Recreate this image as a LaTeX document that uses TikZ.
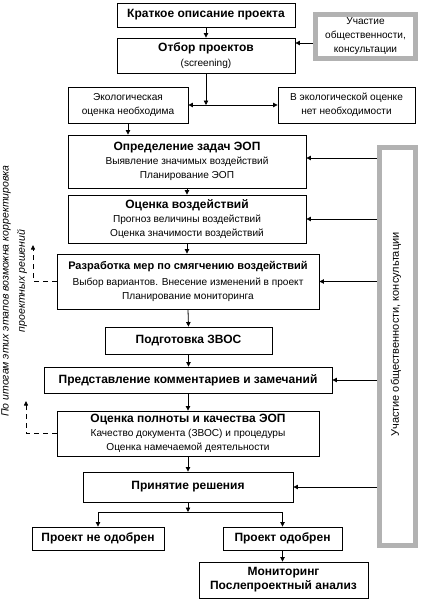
\documentclass[tikz,border=0pt]{standalone}
\usepackage{fontspec}
\setmainfont{Liberation Sans}
\usetikzlibrary{arrows.meta}
\newcommand\myN{\mdseries\fontsize{10.1}{14}\selectfont}
\newcommand\myB{\bfseries\fontsize{12}{14}\selectfont}
\newcommand\myBs{\bfseries\fontsize{11}{14}\selectfont}
\newcommand\myI{\mdseries\itshape\fontsize{10.5}{14}\selectfont}
\newcommand\myC{\mdseries\fontsize{11}{14}\selectfont}
\begin{document}
\begin{tikzpicture}[x=1pt,y=-1pt,
  box/.style={draw,line width=0.9pt,inner sep=0pt,align=center,font=\myN},
  graybox/.style={draw=black!30,line width=4.6pt,inner sep=0pt,align=center,font=\myN},
  arr/.style={line width=0.8pt,-{Triangle[length=4.5pt,width=4.5pt]}},
  ln/.style={line width=0.8pt},
  dasharr/.style={line width=0.8pt,dash pattern=on 5pt off 4pt,-{Triangle[length=4.5pt,width=4pt]}}]
\useasboundingbox (0,0) rectangle (421,602);
% boxes
\node[box,minimum width=178,minimum height=24] (b1) at (206,15) {\myB Краткое описание проекта};
\node[box,minimum width=178,minimum height=35] (b2) at (206,55.5) {\myB Отбор проектов\\[1pt]\myN (screening)};
\node[graybox,minimum width=100,minimum height=44] (g1) at (365.5,36.5) {Участие\\общественности,\\консультации};
\node[box,minimum width=120,minimum height=36] (b3l) at (128,105) {Экологическая\\оценка необходима};
\node[box,minimum width=137,minimum height=36] (b3r) at (346.5,105) {В экологической оценке\\нет необходимости};
\node[box,minimum width=238,minimum height=53] (b4) at (187,161.5) {\myB Определение задач ЭОП\\\myN Выявление значимых воздействий\\Планирование ЭОП};
\node[box,minimum width=238,minimum height=48] (b5) at (187,219) {\myB Оценка воздействий\\\myN Прогноз величины воздействий\\Оценка значимости воздействий};
\node[box,minimum width=262,minimum height=55] (b6) at (188,281.5) {\myBs Разработка мер по смягчению воздействий\\[2pt]\myN Выбор вариантов. Внесение изменений в проект\\Планирование мониторинга};
\node[box,minimum width=167,minimum height=27] (b7) at (188.5,340.5) {\myB Подготовка ЗВОС};
\node[box,minimum width=288,minimum height=26] (b8) at (188,380) {\myB Представление комментариев и замечаний};
\node[box,minimum width=262,minimum height=45] (b9) at (188,433.5) {\myB Оценка полноты и качества ЭОП\\\myN Качество документа (ЗВОС) и процедуры\\Оценка намечаемой деятельности};
\node[box,minimum width=210,minimum height=30] (b10) at (188,487) {\myB Принятие решения};
\node[box,minimum width=132,minimum height=23] (b11) at (98,538.5) {\myB Проект не одобрен};
\node[box,minimum width=119,minimum height=23] (b12) at (282.5,538.5) {\myB Проект одобрен};
\node[box,minimum width=169,minimum height=36] (b13) at (283.5,580) {\myB Мониторинг\\\myB Послепроектный анализ};
\node[graybox,minimum width=36,minimum height=398] (col) at (397.5,346.5) {};
\node[font=\myC,rotate=90,inner sep=0pt] (coltext) at (396,334.5) {Участие общественности, консультации};
% left notes
\node[font=\myI,rotate=90,inner sep=0pt] (n1) at (6,291) {По итогам этих этапов возможна корректировка};
\node[font=\myI,rotate=90,inner sep=0pt] (n2) at (22,281) {проектных решений};
% coordinates
\coordinate (r1) at (0,43);
\coordinate (j1) at (206,105);
\coordinate (c4) at (0,158);
\coordinate (j2) at (188,512);
\coordinate (f1) at (33,245);
\coordinate (f2) at (26,401);
% connectors
\draw[arr] (b1.south) -- (b2.north);
\draw[arr] (g1.west |- r1) -- (b2.east |- r1);
\draw[arr] (b2.south) -- (j1);
\draw[arr] (j1) -- (b3l.east);
\draw[arr] (j1) -- (b3r.west);
\draw[arr] (b3l.south) -- (b3l.south |- b4.north);
\draw[arr] (b4.south) -- (b5.north);
\draw[arr] (b5.south) -- (b5.south |- b6.north);
\draw[arr] (b6.south) -- (b7.south |- b7.north);
\draw[arr] (b7.south) -- (b7.south |- b8.north);
\draw[arr] (b8.south) -- (b9.north);
\draw[arr] (b9.south) -- (b10.north);
\draw[arr] (b10.south) -- (j2);
\draw[ln] (b11.north |- j2) -- (b12.north |- j2);
\draw[arr] (b11.north |- j2) -- (b11.north);
\draw[arr] (b12.north |- j2) -- (b12.north);
\draw[arr] (b12.south) -- (b12.south |- b13.north);
\draw[arr] (col.west |- c4) -- (b4.east |- c4);
\draw[arr] (col.west |- b5.east) -- (b5.east);
\draw[arr] (col.west |- b6.east) -- (b6.east);
\draw[arr] (col.west |- b8.east) -- (b8.east);
\draw[arr] (col.west |- b10.east) -- (b10.east);
\draw[dasharr] (b6.west) -| (f1);
\draw[dasharr] (b9.west) -| (f2);
\end{tikzpicture}
\end{document}
